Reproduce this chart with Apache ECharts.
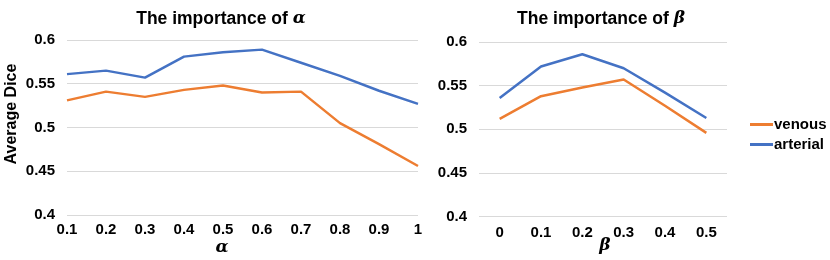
<!DOCTYPE html>
<html><head><meta charset="utf-8">
<script src="https://cdn.jsdelivr.net/npm/echarts@6/dist/echarts.min.js"></script>
<style>html,body{margin:0;padding:0;background:#fff}#c{width:830px;height:260px}</style>
</head><body><div id="c"></div>
<script>
const alphaCats = ['0.1','0.2','0.3','0.4','0.5','0.6','0.7','0.8','0.9','1'];
const alphaVenous = [0.531,0.541,0.535,0.543,0.548,0.540,0.541,0.505,0.481,0.456];
const alphaArterial = [0.561,0.565,0.557,0.581,0.586,0.589,0.574,0.559,0.542,0.527];
const betaCats = ['0','0.1','0.2','0.3','0.4','0.5'];
const betaVenous = [0.512,0.538,0.548,0.557,0.527,0.496];
const betaArterial = [0.536,0.572,0.586,0.570,0.542,0.513];
const yTicks = [0.4,0.45,0.5,0.55,0.6];

const FONT = '"Liberation Sans", Arial, sans-serif';
const ORANGE = '#ED7D31', BLUE = '#4472C4';
const chart = echarts.init(document.getElementById('c'), null, {renderer:'canvas'});
function yAxis(idx){
  return {gridIndex: idx, type:'value', min: yTicks[0], max: yTicks[yTicks.length-1], interval: 0.05,
    axisLine:{show:false}, axisTick:{show:false},
    splitLine:{lineStyle:{color:'#d9d9d9', width:1}},
    axisLabel:{fontFamily:FONT, fontWeight:'bold', fontSize:15, color:'#000', margin:12}
  };
}
function xAxis(idx, cats, gap, m){
  return {gridIndex: idx, type:'category', data: cats, boundaryGap: gap,
    axisLine:{show:false}, axisTick:{show:false},
    axisLabel:{fontFamily:FONT, fontWeight:'bold', fontSize:15, color:'#000', margin:m, interval:0},
    splitLine:{show:false}
  };
}
function line(name, xi, data, color){
  return {name, type:'line', xAxisIndex:xi, yAxisIndex:xi, data, symbol:'none', showSymbol:false,
    lineStyle:{color, width:2.5}, itemStyle:{color}, z: name==='arterial'?3:2, animation:false};
}
const greek = {fontFamily:'"DejaVu Serif", serif', fontStyle:'italic', fontWeight:'bold', fontSize:17, color:'#000'};
chart.setOption({
  animation:false,
  title:[
    {text:'The importance of {g|α}', left:216, top:5, textAlign:'center',
     textStyle:{fontFamily:FONT, fontWeight:'bold', fontSize:17.5, color:'#000', rich:{g:greek}}},
    {text:'The importance of {g|β}', left:596, top:5, textAlign:'center',
     textStyle:{fontFamily:FONT, fontWeight:'bold', fontSize:17.5, color:'#000', rich:{g:greek}}}
  ],
  grid:[
    {left:67, top:40, width:351, height:175},
    {left:479, top:42, width:248, height:174.7}
  ],
  xAxis:[xAxis(0, alphaCats, false, 7), xAxis(1, betaCats, true, 9)],
  yAxis:[yAxis(0), yAxis(1)],
  legend:{orient:'vertical', left:745, top:112, itemGap:5, itemWidth:23, itemHeight:3, icon:'rect',
    data:['venous','arterial'],
    textStyle:{fontFamily:FONT, fontWeight:'bold', fontSize:15, color:'#000', padding:[0,0,0,-4]}},
  graphic:[
    {type:'text', x:12, y:114, rotation:Math.PI/2,
     style:{text:'Average Dice', font:'bold 16px "Liberation Sans", Arial, sans-serif', fill:'#000', align:'center', verticalAlign:'middle'}},
    {type:'text', x:222, y:248, style:{text:'α', font:'italic bold 17px "DejaVu Serif", serif', fill:'#000', align:'center', verticalAlign:'middle'}},
    {type:'text', x:605, y:246, style:{text:'β', font:'italic bold 17px "DejaVu Serif", serif', fill:'#000', align:'center', verticalAlign:'middle'}}
  ],
  series:[
    line('venous',0,alphaVenous,ORANGE),
    line('arterial',0,alphaArterial,BLUE),
    line('venous',1,betaVenous,ORANGE),
    line('arterial',1,betaArterial,BLUE)
  ]
});
</script></body></html>
